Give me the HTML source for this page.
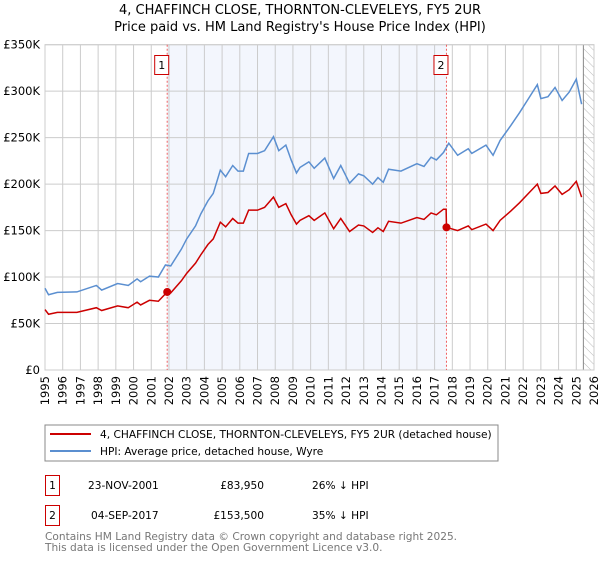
<!DOCTYPE html>
<html><head><meta charset="utf-8"><style>
body{margin:0;background:#fff;font-family:"DejaVu Sans","Liberation Sans",sans-serif}
svg text{font-family:"DejaVu Sans","Liberation Sans",sans-serif}
</style></head><body>
<svg id="c" width="600" height="560" viewBox="0 0 600 560" xmlns="http://www.w3.org/2000/svg">
<defs><pattern id="hatch" width="6" height="6" patternUnits="userSpaceOnUse" patternTransform="rotate(-45)"><line x1="0" y1="0" x2="0" y2="6" stroke="#bbb" stroke-width="1"/></pattern></defs>
<text x="300" y="14" text-anchor="middle" font-size="13">4, CHAFFINCH CLOSE, THORNTON-CLEVELEYS, FY5 2UR</text>
<text x="300" y="31" text-anchor="middle" font-size="13">Price paid vs. HM Land Registry's House Price Index (HPI)</text>
<g id="plot"></g>
<rect x="45" y="425" width="453" height="36" fill="#fff" stroke="#888"/>
<line x1="50" y1="434" x2="91" y2="434" stroke="#cc0000" stroke-width="2"/>
<text x="100" y="438" font-size="10.6">4, CHAFFINCH CLOSE, THORNTON-CLEVELEYS, FY5 2UR (detached house)</text>
<line x1="50" y1="451" x2="91" y2="451" stroke="#5b8fd0" stroke-width="2"/>
<text x="100" y="455" font-size="10.6">HPI: Average price, detached house, Wyre</text>
<rect x="45.5" y="475.5" width="14" height="20" fill="#fff" stroke="#cc0000"/>
<text x="52.5" y="489" text-anchor="middle" font-size="10.6">1</text>
<text x="88" y="489" font-size="10.6">23-NOV-2001</text>
<text x="264" y="489" text-anchor="end" font-size="10.6">£83,950</text>
<text x="312" y="489" font-size="10.6">26% ↓ HPI</text>
<rect x="45.5" y="505.5" width="14" height="20" fill="#fff" stroke="#cc0000"/>
<text x="52.5" y="519" text-anchor="middle" font-size="10.6">2</text>
<text x="91" y="519" font-size="10.6">04-SEP-2017</text>
<text x="264" y="519" text-anchor="end" font-size="10.6">£153,500</text>
<text x="312" y="519" font-size="10.6">35% ↓ HPI</text>
<text x="45" y="540" font-size="10.6" fill="#777">Contains HM Land Registry data © Crown copyright and database right 2025.</text>
<text x="45" y="551" font-size="10.6" fill="#777">This data is licensed under the Open Government Licence v3.0.</text>
</svg>
<script>
const yTicks=[0,50,100,150,200,250,300,350];
const yTickLabels=["£0","£50K","£100K","£150K","£200K","£250K","£300K","£350K"];
const xYears=[1995,1996,1997,1998,1999,2000,2001,2002,2003,2004,2005,2006,2007,2008,2009,2010,2011,2012,2013,2014,2015,2016,2017,2018,2019,2020,2021,2022,2023,2024,2025,2026];
const hpiDates=[1995.0,1995.2,1995.7,1996.8,1997.9,1998.2,1999.1,1999.7,2000.2,2000.4,2000.9,2001.4,2001.8,2002.1,2002.7,2003.0,2003.5,2003.8,2004.2,2004.5,2004.9,2005.2,2005.6,2005.9,2006.2,2006.5,2007.0,2007.4,2007.9,2008.2,2008.6,2008.9,2009.2,2009.4,2009.9,2010.2,2010.8,2011.3,2011.7,2012.2,2012.7,2013.0,2013.5,2013.8,2014.1,2014.4,2015.1,2016.0,2016.4,2016.8,2017.1,2017.5,2017.8,2018.3,2018.9,2019.1,2019.9,2020.3,2020.7,2021.3,2021.8,2022.3,2022.8,2023.0,2023.4,2023.8,2024.2,2024.6,2025.0,2025.3];
const hpiValues=[88,81,83.5,84,91,86,93,91,98,95,101,100,113,112,130,141,155,168,182,190,215,208,220,214,214,233,233,236,251,236,242,226,212,218,224,217,228,206,220,201,211,209,200,207,202,216,214,222,219,229,226,234,244,231,238,233,242,231,247,263,277,292,307,292,294,304,290,299,313,286];
const redDates=[1995.0,1995.2,1995.7,1996.8,1997.9,1998.2,1999.1,1999.7,2000.2,2000.4,2000.9,2001.4,2001.9,2002.1,2002.7,2003.0,2003.5,2003.8,2004.2,2004.5,2004.9,2005.2,2005.6,2005.9,2006.2,2006.5,2007.0,2007.4,2007.9,2008.2,2008.6,2008.9,2009.2,2009.4,2009.9,2010.2,2010.8,2011.3,2011.7,2012.2,2012.7,2013.0,2013.5,2013.8,2014.1,2014.4,2015.1,2016.0,2016.4,2016.8,2017.1,2017.5,2017.65,2017.67,2018.3,2018.9,2019.1,2019.9,2020.3,2020.7,2021.3,2021.8,2022.3,2022.8,2023.0,2023.4,2023.8,2024.2,2024.6,2025.0,2025.3];
const redValues=[65,60,62,62,67,64,69,67,73,70,75,74,83.95,83,96,104,115,124,135,141,159,154,163,158,158,172,172,175,186,175,179,167,157,161,166,161,169,152,163,149,156,155,148,153,149,160,158,164,162,169,167,173,173,153.5,150,155,151,157,150,161,171,180,190,200,190,191,198,189,194,203,186];
const saleDates=[2001.9,2017.67];
const salePrices=[83.95,153.5];
const saleLabels=["1","2"];
const L=45,R=594,T=44.7,B=370;
const x=v=>L+(v-1995)/(2026-1995)*(R-L);
const y=v=>B-v/350*(B-T);
const NS="http://www.w3.org/2000/svg";
const g=document.getElementById('plot');
function mk(t,a){const e=document.createElementNS(NS,t);for(const k in a)e.setAttribute(k,a[k]);g.appendChild(e);return e;}
let e;
e=mk('rect',{x:x(saleDates[0]),y:T,width:x(saleDates[1])-x(saleDates[0]),height:B-T,fill:'#f3f6fd'});


e=mk('rect',{x:x(2025.4),y:T,width:R-x(2025.4),height:B-T,fill:'url(#hatch)'});


xYears.forEach(v=>{e=mk('line',{x1:x(v),x2:x(v),y1:T,y2:B,stroke:'#ccc','stroke-width':1});


e=mk('text',{x:0,y:0,'font-size':11.5,'text-anchor':'end',transform:`translate(${x(v)+4},${B+6}) rotate(-90)`});e.textContent=v;

});
yTicks.forEach((v,i)=>{e=mk('line',{x1:L,x2:R,y1:y(v),y2:y(v),stroke:'#ccc','stroke-width':1});


e=mk('text',{x:L-5,y:y(v)+4,'font-size':11.5,'text-anchor':'end'});e.textContent=yTickLabels[i];

});
e=mk('line',{x1:x(2025.4),x2:x(2025.4),y1:T,y2:B,stroke:'#888','stroke-width':1});


e=mk('rect',{x:L,y:T,width:R-L,height:B-T,fill:'none',stroke:'#ccc'});


saleDates.forEach((d,i)=>{e=mk('line',{x1:x(d),x2:x(d),y1:T,y2:B,stroke:'#f06060','stroke-width':1,'stroke-dasharray':'2,2'});


e=mk('rect',{x:x(d)-12.5,y:55.5,width:14,height:19,fill:'#fff',stroke:'#cc0000'});


e=mk('text',{x:x(d)-5.5,y:69,'font-size':11,'text-anchor':'middle'});e.textContent=saleLabels[i];

});
e=mk('polyline',{points:hpiDates.map((d,i)=>x(d)+','+y(hpiValues[i])).join(' '),fill:'none',stroke:'#5b8fd0','stroke-width':1.5});


e=mk('polyline',{points:redDates.map((d,i)=>x(d)+','+y(redValues[i])).join(' '),fill:'none',stroke:'#cc0000','stroke-width':1.5});


saleDates.forEach((d,i)=>{e=mk('circle',{cx:x(d),cy:y(salePrices[i]),r:4,fill:'#cc0000'});

});
</script>
</body></html>
